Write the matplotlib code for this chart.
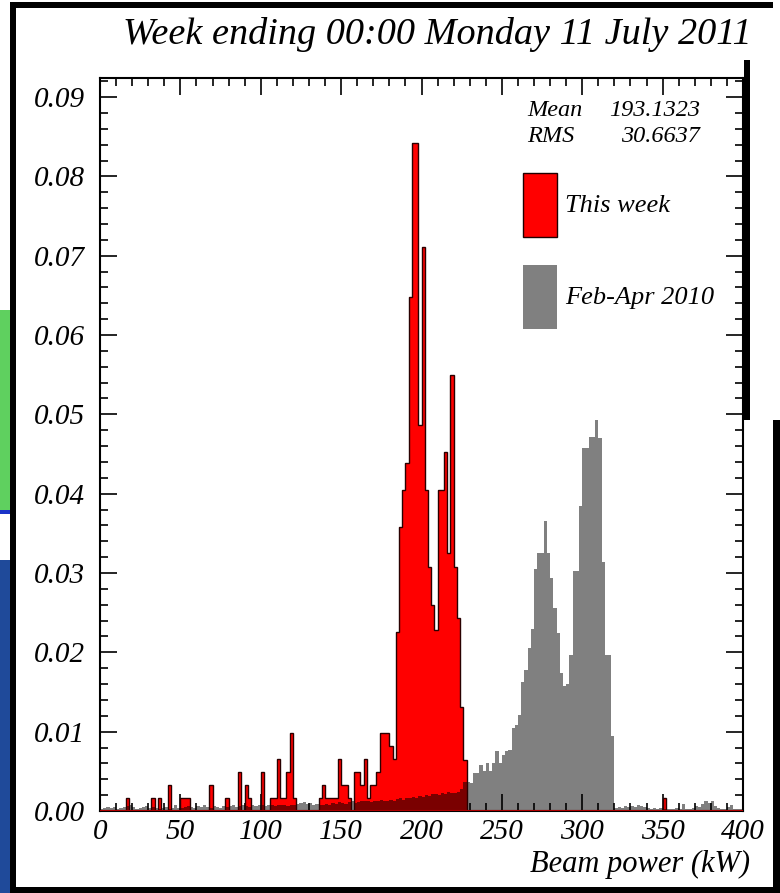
import numpy as np
import matplotlib.pyplot as plt
from matplotlib.patches import Rectangle, Patch

# 2 kW bins from 0 to 400 kW, values are fractions per bin
BIN_W = 2.0
EDGES = np.arange(0, 400 + BIN_W, BIN_W)

# This week (red): lower bin edge -> fraction
red_bins = [16, 32, 36, 42, 50, 52, 54, 68, 78, 86, 90, 92, 100,
            106, 108, 110, 112, 114, 116, 118, 120,
            136, 138, 140, 142, 144, 146, 148, 150, 152, 154, 158, 160,
            162, 164, 166, 168, 170, 172, 174, 176, 178, 180, 182,
            184, 186, 188, 190, 192, 194, 196, 198, 200, 202, 204, 206,
            208, 210, 212, 214, 216, 218, 220, 222, 224, 226, 350]
red_vals = [0.0016, 0.0016, 0.0016, 0.0033, 0.0016, 0.0016, 0.0016, 0.0033,
            0.0016, 0.0049, 0.0033, 0.0016, 0.0049,
            0.0016, 0.0016, 0.0066, 0.0016, 0.0016, 0.0049, 0.0098, 0.0016,
            0.0016, 0.0033, 0.0016, 0.0016, 0.0016, 0.0016, 0.0066, 0.0033,
            0.0033, 0.0016, 0.0049, 0.0049,
            0.0033, 0.0066, 0.0016, 0.0033, 0.0033, 0.0049, 0.0098, 0.0098,
            0.0098, 0.0082, 0.0066,
            0.0226, 0.0358, 0.0405, 0.0439, 0.0648, 0.0842, 0.0842, 0.0487,
            0.0711, 0.0405, 0.0308, 0.0260, 0.0228, 0.0405, 0.0405, 0.0453,
            0.0325, 0.0550, 0.0308, 0.0243, 0.0131, 0.0064, 0.0016]

# Feb-Apr 2010 (grey): one value per 2 kW bin, 0 .. 398
gray_vals = [
    0.0003, 0.0004, 0.0005, 0.0004, 0.0005, 0.0003, 0.0004, 0.0005, 0.0006, 0.0008,
    0.0005, 0.0003, 0.0004, 0.0005, 0.0006, 0.0004, 0.0005, 0.0004, 0.0003, 0.0004,
    0.0005, 0.0003, 0.0004, 0.0007, 0.0004, 0.0004, 0.0005, 0.0006, 0.0005, 0.0004,
    0.0006, 0.0005, 0.0007, 0.0005, 0.0004, 0.0006, 0.0005, 0.0004, 0.0006, 0.0005,
    0.0006, 0.0007, 0.0005, 0.0006, 0.0008, 0.0006, 0.0005, 0.0007, 0.0006, 0.0007,
    0.0007, 0.0006, 0.0008, 0.0007, 0.0006, 0.0008, 0.0007, 0.0008, 0.0006, 0.0007,
    0.0008, 0.0009, 0.0010, 0.0011, 0.0009, 0.0010, 0.0008, 0.0009, 0.0007, 0.0008,
    0.0009, 0.0008, 0.0010, 0.0009, 0.0011, 0.0010, 0.0009, 0.0011, 0.0012, 0.0010,
    0.0011, 0.0012, 0.0013, 0.0012, 0.0011, 0.0013, 0.0012, 0.0014, 0.0012, 0.0013,
    0.0014, 0.0013, 0.0015, 0.0016, 0.0014, 0.0017, 0.0016, 0.0018, 0.0017, 0.0019,
    0.0018, 0.0020, 0.0019, 0.0021, 0.0022, 0.0020, 0.0023, 0.0022, 0.0024, 0.0023,
    0.0023, 0.0024, 0.0028, 0.0037, 0.0037, 0.0035, 0.0048, 0.0048, 0.0058, 0.0050,
    0.0060, 0.0050, 0.0061, 0.0076, 0.0060, 0.0070, 0.0076, 0.0077, 0.0104, 0.0108,
    0.0121, 0.0163, 0.0178, 0.0205, 0.0230, 0.0305, 0.0325, 0.0325, 0.0365, 0.0325,
    0.0294, 0.0256, 0.0224, 0.0174, 0.0157, 0.0160, 0.0197, 0.0302, 0.0302, 0.0384,
    0.0458, 0.0458, 0.0472, 0.0472, 0.0493, 0.0470, 0.0314, 0.0197, 0.0197, 0.0094,
    0.0004, 0.0005, 0.0004, 0.0006, 0.0005, 0.0006, 0.0005, 0.0007, 0.0006, 0.0005,
    0.0004, 0.0003, 0.0004, 0.0003, 0.0004, 0.0003, 0.0002, 0.0003, 0.0002, 0.0004,
    0.0003, 0.0009, 0.0003, 0.0002, 0.0004, 0.0006, 0.0005, 0.0009, 0.0013, 0.0010,
    0.0012, 0.0006, 0.0004, 0.0003, 0.0002, 0.0005, 0.0007, 0.0003, 0.0002, 0.0003,
]

stats_mean = "193.1323"
stats_rms = "30.6637"
title = "Week ending 00:00 Monday 11 July 2011"
xlabel = "Beam power (kW)"
labels = ["This week", "Feb-Apr 2010"]

red = np.zeros(len(EDGES) - 1)
red[(np.array(red_bins) / BIN_W).astype(int)] = red_vals
gray = np.array(gray_vals)
overlap = np.where(red > 0, np.minimum(red, gray), 0.0)

W, H = 780, 893
fig = plt.figure(figsize=(W / 100, H / 100), dpi=100)
fig.patch.set_facecolor("white")
serif = ["Liberation Serif", "DejaVu Serif"]


def px_rect(x0, y0, x1, y1, color):
    # rectangle given in pixel coords (origin top-left)
    fig.add_artist(Rectangle((x0 / W, 1 - y1 / H), (x1 - x0) / W, (y1 - y0) / H,
                             transform=fig.transFigure, facecolor=color,
                             edgecolor="none", zorder=-5))


# slide edge peeking in on the left
px_rect(0, 310, 10, 512, "#5fd05f")
px_rect(0, 510, 10, 514, "#1a33c8")
px_rect(0, 560, 10, H, "#1f4a9a")
# black frame round the plot
px_rect(10, 2, 773, 8, "black")
px_rect(10, 2, 16, H, "black")
px_rect(744, 60, 750, 420, "black")
px_rect(773, 420, W, H, "black")
px_rect(10, 887, W, H, "black")

ax = fig.add_axes([100 / W, 1 - 811 / H, 643 / W, 733 / H])
ax.stairs(gray, EDGES, fill=True, color="#808080", lw=0, zorder=1)
ax.stairs(red, EDGES, fill=True, color="#ff0000", lw=0, zorder=2)
ax.stairs(overlap, EDGES, fill=True, color="#7a0000", lw=0, zorder=3)
ax.stairs(red, EDGES, color="#2a0000", lw=1.0, zorder=4)
ax.axhline(0, color="#b00000", lw=1.5, zorder=5)

ax.set_xlim(0, 400)
ax.set_ylim(0, 0.0924)
ax.set_xticks(np.arange(0, 401, 50))
ax.set_xticks(np.arange(0, 401, 10), minor=True)
ax.set_yticks(np.arange(0, 0.0901, 0.01))
ax.set_yticks(np.arange(0, 0.0921, 0.002), minor=True)
ax.set_yticklabels([f"{v:.2f}" for v in np.arange(0, 0.0901, 0.01)])
ax.tick_params(which="both", direction="in", top=True, right=True, width=1.2,
               labelsize=21, colors="black")
ax.tick_params(which="major", length=12)
ax.tick_params(which="minor", length=6)
ax.tick_params(axis="y", pad=11)
ax.tick_params(axis="x", pad=6)
for lab in ax.get_xticklabels() + ax.get_yticklabels():
    lab.set_family(serif)
    lab.set_style("italic")
for sp in ax.spines.values():
    sp.set_linewidth(1.5)

fig.text(752 / W, 1 - 34 / H, title, ha="right", va="center", fontsize=27.5,
         family=serif, style="italic")
fig.text(750 / W, 1 - 864 / H, xlabel, ha="right", va="center", fontsize=22,
         family=serif, style="italic")

# statistics box
fig.text(527 / W, 1 - 111 / H, "Mean", ha="left", va="center", fontsize=17.5,
         family=serif, style="italic")
fig.text(700 / W, 1 - 111 / H, stats_mean, ha="right", va="center", fontsize=17.5,
         family=serif, style="italic")
fig.text(527 / W, 1 - 137 / H, "RMS", ha="left", va="center", fontsize=17.5,
         family=serif, style="italic")
fig.text(700 / W, 1 - 137 / H, stats_rms, ha="right", va="center", fontsize=17.5,
         family=serif, style="italic")

handles = [Patch(facecolor="#ff0000", edgecolor="#200000", lw=1.0),
           Patch(facecolor="#808080", edgecolor="none")]
leg = ax.legend(handles, labels, loc="upper left",
                bbox_to_anchor=(523 / W, 1 - 173 / H), bbox_transform=fig.transFigure,
                frameon=False, borderpad=0, borderaxespad=0,
                handlelength=1.3, handleheight=3.35, labelspacing=1.05,
                handletextpad=0.3, prop={"family": serif, "style": "italic", "size": 19})

fig.savefig("out.png", dpi=100)
